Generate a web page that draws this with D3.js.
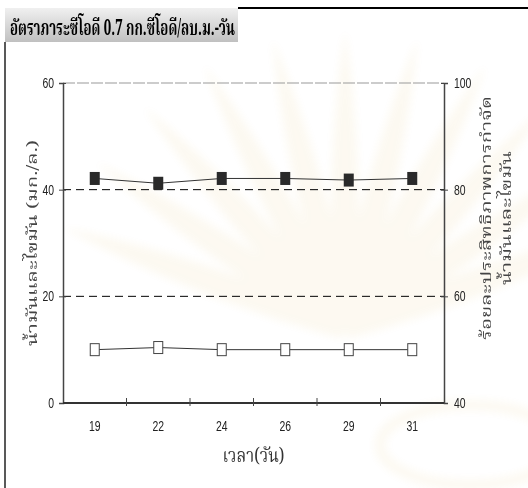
<!DOCTYPE html>
<html>
<head>
<meta charset="utf-8">
<script src="https://cdn.jsdelivr.net/npm/d3@7"></script>
<style>
  html, body { margin: 0; padding: 0; background: #ffffff; }
  svg { display: block; }
  .thai { font-family: "Noto Serif Thai", "Noto Sans Thai", "Loma", "Garuda", "Norasi", "Liberation Serif", serif; }
  .num { font-family: "Liberation Sans Narrow", "Arial Narrow", "Liberation Sans", Arial, sans-serif; }
</style>
</head>
<body>
<script>
// Oil & grease loading test: 0.7 kg COD / m3-day
const days = ["19", "22", "24", "26", "29", "31"];
const oilGrease = [10.0, 10.4, 10.0, 10.0, 10.0, 10.0];          // mg/L, left axis
const removalEff = [82.1, 81.2, 82.1, 82.1, 81.8, 82.1];          // %, right axis
const leftTicks = [0, 20, 40, 60];
const rightTicks = [40, 60, 80, 100];

const titleText = "อัตราภาระซีโอดี 0.7 กก.ซีโอดี/ลบ.ม.-วัน";
const xTitle = "เวลา(วัน)";
const yLeftTitle = "น้ำมันและไขมัน (มก./ล.)";
const yRightTitle = ["ร้อยละประสิทธิภาพการกำจัด", "น้ำมันและไขมัน"];

const W = 528, H = 488;
const plot = { left: 63, right: 444, top: 83, bottom: 403 };

const svg = d3.select("body").append("svg")
  .attr("width", W).attr("height", H);
const defs = svg.append("defs");

// Faint emblem watermark behind the chart
defs.append("filter").attr("id", "soft")
  .append("feGaussianBlur").attr("stdDeviation", 4);
const wm = svg.append("g").attr("opacity", 0.07).attr("filter", "url(#soft)");
const rayAngles = d3.range(-70, 71, 14);
wm.selectAll("path").data(rayAngles).join("path")
  .attr("transform", a => `translate(345,330) rotate(${a})`)
  .attr("d", "M-9,0 Q-22,-150 0,-300 Q22,-150 9,0 Z")
  .attr("fill", "#d8a830");
wm.append("ellipse").attr("cx", 470).attr("cy", 445).attr("rx", 90).attr("ry", 40)
  .attr("fill", "none").attr("stroke", "#d8a830").attr("stroke-width", 10);

// Title box with grey gradient
const grad = defs.append("linearGradient").attr("id", "titleGrad")
  .attr("x1", 0).attr("y1", 0).attr("x2", 0).attr("y2", 1);
grad.append("stop").attr("offset", "0%").attr("stop-color", "#f0f0f0");
grad.append("stop").attr("offset", "100%").attr("stop-color", "#c0c0c0");

svg.append("rect").attr("x", 5).attr("y", 8).attr("width", 233).attr("height", 34)
  .attr("fill", "url(#titleGrad)");
svg.append("text").attr("class", "thai")
  .attr("x", 10).attr("y", 35)
  .attr("font-size", 22).attr("font-weight", "bold").attr("fill", "#000")
  .attr("textLength", 225).attr("lengthAdjust", "spacingAndGlyphs")
  .text(titleText);

// Frame lines
svg.append("line").attr("x1", 238).attr("x2", W).attr("y1", 8).attr("y2", 8)
  .attr("stroke", "#000").attr("stroke-width", 2);
svg.append("line").attr("x1", 5).attr("x2", 5).attr("y1", 42).attr("y2", H)
  .attr("stroke", "#222").attr("stroke-width", 1.5);

// Scales
const x = d3.scalePoint().domain(days).range([plot.left, plot.right]).padding(0.5);
const xBand = d3.scaleBand().domain(days).range([plot.left, plot.right]);
const yL = d3.scaleLinear().domain([0, 60]).range([plot.bottom, plot.top]);
const yR = d3.scaleLinear().domain([40, 100]).range([plot.bottom, plot.top]);

// narrow digits for tick labels
const narrow = sel => sel.attr("textLength", d => String(d).length * 5.8)
  .attr("lengthAdjust", "spacingAndGlyphs");

// Gridlines
const g = svg.append("g");
g.selectAll("line.grid").data([20, 40]).join("line")
  .attr("class", "grid")
  .attr("x1", plot.left).attr("x2", plot.right)
  .attr("y1", d => yL(d)).attr("y2", d => yL(d))
  .attr("stroke", "#000").attr("stroke-width", 1).attr("stroke-dasharray", "8,5");
g.append("line")
  .attr("x1", plot.left).attr("x2", plot.right)
  .attr("y1", yL(60)).attr("y2", yL(60))
  .attr("stroke", "#999").attr("stroke-width", 1.2).attr("stroke-dasharray", "12,2");

// Left axis
const axL = svg.append("g").attr("transform", `translate(${plot.left},0)`)
  .call(d3.axisLeft(yL).tickValues(leftTicks).tickSize(4).tickPadding(5));
axL.select(".domain").attr("stroke", "#444").attr("stroke-width", 1.5);
axL.selectAll(".tick line").attr("x2", -4).attr("x1", 3).attr("stroke", "#444");
axL.selectAll("text").attr("class", "num").attr("font-size", 14).attr("fill", "#222").call(narrow);

// Right axis
const axR = svg.append("g").attr("transform", `translate(${plot.right},0)`)
  .call(d3.axisRight(yR).tickValues(rightTicks).tickSize(4).tickPadding(6));
axR.select(".domain").attr("stroke", "#444").attr("stroke-width", 1.5);
axR.selectAll(".tick line").attr("x1", -3).attr("x2", 4).attr("stroke", "#444");
axR.selectAll("text").attr("class", "num").attr("font-size", 14).attr("fill", "#222").call(narrow);

// Bottom axis: ticks at category boundaries, labels at centres
const axB = svg.append("g").attr("transform", `translate(0,${plot.bottom})`);
axB.append("line").attr("x1", plot.left).attr("x2", plot.right)
  .attr("stroke", "#333").attr("stroke-width", 1.8);
axB.selectAll("line.tk").data(days.slice(1)).join("line").attr("class", "tk")
  .attr("x1", d => xBand(d)).attr("x2", d => xBand(d))
  .attr("y1", -5).attr("y2", 3).attr("stroke", "#444");
axB.selectAll("text").data(days).join("text")
  .attr("class", "num").attr("x", d => x(d)).attr("y", 28)
  .attr("text-anchor", "middle").attr("font-size", 14).attr("fill", "#222")
  .text(d => d).call(narrow);

// Axis titles
svg.append("text").attr("class", "thai")
  .attr("transform", `translate(${(plot.left + plot.right) / 2},462)`)
  .attr("text-anchor", "middle").attr("font-size", 20).attr("fill", "#333")
  .attr("textLength", 62).attr("lengthAdjust", "spacingAndGlyphs")
  .text(xTitle);
svg.append("text").attr("class", "thai")
  .attr("transform", `translate(37,${(plot.top + plot.bottom) / 2}) rotate(-90)`)
  .attr("text-anchor", "middle").attr("font-size", 14).attr("fill", "#444")
  .attr("textLength", 206).attr("lengthAdjust", "spacingAndGlyphs")
  .text(yLeftTitle);
const rt = svg.append("text").attr("class", "thai")
  .attr("transform", `translate(491,218) rotate(-90)`)
  .attr("text-anchor", "middle").attr("font-size", 14).attr("fill", "#444");
rt.append("tspan").attr("x", 0).attr("y", 0)
  .attr("textLength", 244).attr("lengthAdjust", "spacingAndGlyphs")
  .text(yRightTitle[0]);
rt.append("tspan").attr("x", 0).attr("y", 20)
  .attr("textLength", 134).attr("lengthAdjust", "spacingAndGlyphs")
  .text(yRightTitle[1]);

// Series: removal efficiency (filled squares, right axis)
const line = (yScale) => d3.line().x((d, i) => x(days[i])).y(d => yScale(d));
svg.append("path").datum(removalEff).attr("d", line(yR))
  .attr("fill", "none").attr("stroke", "#333").attr("stroke-width", 1);
svg.selectAll("rect.eff").data(removalEff).join("rect").attr("class", "eff")
  .attr("x", (d, i) => x(days[i]) - 5).attr("y", d => yR(d) - 6.5)
  .attr("width", 10).attr("height", 13).attr("fill", "#2a2a2a");

// Series: oil and grease (open squares, left axis)
svg.append("path").datum(oilGrease).attr("d", line(yL))
  .attr("fill", "none").attr("stroke", "#333").attr("stroke-width", 1);
svg.selectAll("rect.og").data(oilGrease).join("rect").attr("class", "og")
  .attr("x", (d, i) => x(days[i]) - 4.5).attr("y", d => yL(d) - 6)
  .attr("width", 9).attr("height", 12).attr("fill", "#fff")
  .attr("stroke", "#444").attr("stroke-width", 1);
</script>
</body>
</html>
